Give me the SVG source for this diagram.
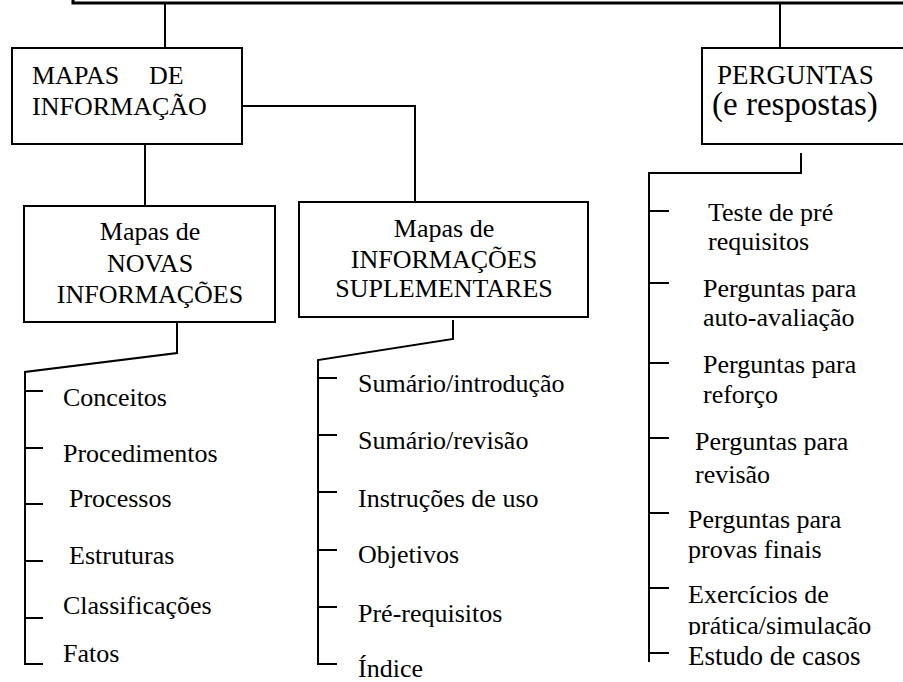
<svg xmlns="http://www.w3.org/2000/svg" width="903" height="682" viewBox="0 0 903 682">
<style>
.box{fill:#fff;stroke:#000;stroke-width:2}
.ln{fill:none;stroke:#000;stroke-width:2}
.top{stroke-width:3}
text{font-family:"Liberation Serif","Times New Roman",serif;font-size:26px;fill:#000}
.c{text-anchor:middle}
</style>
<defs>
<clipPath id="clipPratica"><rect x="680" y="600" width="223" height="35"/></clipPath>
</defs>
<g id="connectors">
<path class="ln top" d="M73,0 V3 H903"/>
<path class="ln" d="M165,4 V48"/>
<path class="ln" d="M780,4 V48"/>
<path class="ln" d="M242,106 H415 V202"/>
<path class="ln" d="M145,144 V206"/>
<path class="ln" d="M177,316 V353 L25,372 V664 H43"/>
<path class="ln" d="M25,391 H43 M25,448 H43 M25,504 H43 M25,561 H43 M25,618 H43"/>
<path class="ln" d="M453,320 V339 L318,360 V664 H337"/>
<path class="ln" d="M318,378 H337 M318,435 H337 M318,492 H337 M318,550 H337 M318,607 H337"/>
<path class="ln" d="M801,153 V173 H649 V662"/>
<path class="ln" d="M649,211 H669 M649,283 H669 M649,363 H669 M649,438 H669 M649,513 H669 M649,588 H669 M649,653 H669"/>
</g>
<g id="mapas-informacao">
<rect class="box" x="12" y="48" width="230" height="96"/>
<text x="32" y="84">MAPAS</text>
<text x="149" y="84">DE</text>
<text x="32" y="115">INFORMAÇÃO</text>
</g>
<g id="perguntas">
<rect class="box" x="702" y="48" width="210" height="96"/>
<text x="717" y="84" style="font-size:27px">PERGUNTAS</text>
<text x="712" y="115" style="font-size:33px">(e respostas)</text>
</g>
<g id="novas-informacoes">
<rect class="box" x="24" y="206" width="251" height="116"/>
<text class="c" x="150" y="240">Mapas de</text>
<text class="c" x="150" y="272">NOVAS</text>
<text class="c" x="150" y="303">INFORMAÇÕES</text>
</g>
<g id="informacoes-suplementares">
<rect class="box" x="299" y="202" width="289" height="115"/>
<text class="c" x="444" y="237">Mapas de</text>
<text class="c" x="444" y="268">INFORMAÇÕES</text>
<text class="c" x="444" y="297">SUPLEMENTARES</text>
</g>
<g id="lista-novas">
<text x="63" y="406">Conceitos</text>
<text x="63" y="462">Procedimentos</text>
<text x="69" y="507">Processos</text>
<text x="69" y="564">Estruturas</text>
<text x="63" y="614">Classificações</text>
<text x="63" y="662">Fatos</text>
</g>
<g id="lista-suplementares">
<text x="358" y="392">Sumário/introdução</text>
<text x="358" y="449">Sumário/revisão</text>
<text x="358" y="507">Instruções de uso</text>
<text x="358" y="563">Objetivos</text>
<text x="358" y="622">Pré-requisitos</text>
<text x="358" y="677">Índice</text>
</g>
<g id="lista-perguntas">
<text x="708" y="221">Teste de pré</text>
<text x="708" y="250">requisitos</text>
<text x="703" y="297">Perguntas para</text>
<text x="703" y="326">auto-avaliação</text>
<text x="703" y="373">Perguntas para</text>
<text x="703" y="403">reforço</text>
<text x="695" y="450">Perguntas para</text>
<text x="695" y="483">revisão</text>
<text x="688" y="528">Perguntas para</text>
<text x="688" y="558">provas finais</text>
<text x="688" y="603">Exercícios de</text>
<text x="688" y="634" clip-path="url(#clipPratica)">prática/simulação</text>
<text x="688" y="665" style="font-size:27px">Estudo de casos</text>
</g>
</svg>
